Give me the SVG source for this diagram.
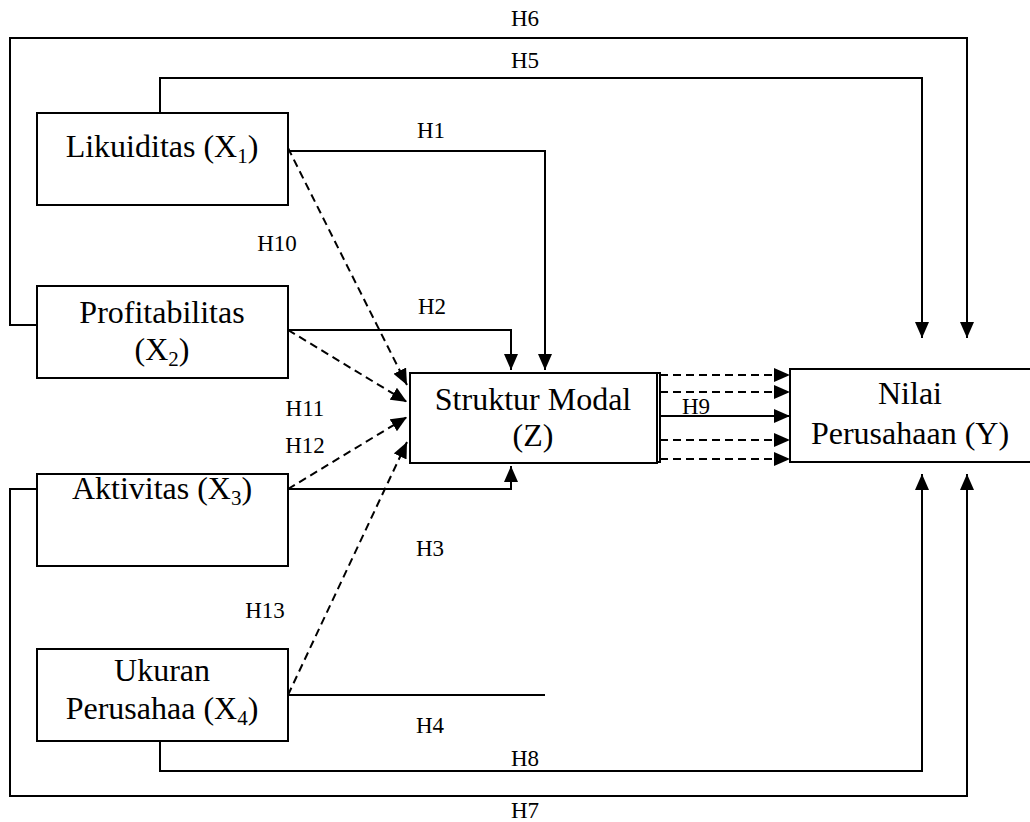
<svg xmlns="http://www.w3.org/2000/svg" width="1030" height="822" viewBox="0 0 1030 822">
<style>
.box{fill:#fff;stroke:#000;stroke-width:2}
.t{font-family:"Liberation Serif","Times New Roman",serif;font-size:32px;fill:#000;text-anchor:middle}
.lbl{font-family:"Liberation Serif","Times New Roman",serif;font-size:23px;fill:#000;text-anchor:middle}
.ln{fill:none;stroke:#000;stroke-width:2}
.dash{fill:none;stroke:#000;stroke-width:2;stroke-dasharray:8 5}
</style>
<defs>
<marker id="ah" markerUnits="userSpaceOnUse" markerWidth="16" markerHeight="14" refX="16" refY="7" orient="auto">
<path d="M0,0 L16,7 L0,14 z" fill="#000" stroke="none"/>
</marker>
</defs>
<rect width="1030" height="822" fill="#fff"/>
<g id="connectors">
<path class="ln" d="M37,325 H10 V38 H967 V338" marker-end="url(#ah)"/>
<path class="ln" d="M160,113 V78 H922 V338" marker-end="url(#ah)"/>
<path class="ln" d="M288,151 H545 V370" marker-end="url(#ah)"/>
<path class="ln" d="M288,330 H511 V370" marker-end="url(#ah)"/>
<path class="ln" d="M288,489 H511 V466" marker-end="url(#ah)"/>
<path class="ln" d="M288,695 H545"/>
<path class="ln" d="M160,741 V771 H922 V474" marker-end="url(#ah)"/>
<path class="ln" d="M37,489 H10 V796 H967 V474" marker-end="url(#ah)"/>
<path class="dash" d="M288,148 L407,385" marker-end="url(#ah)"/>
<path class="dash" d="M288,330 L407,402" marker-end="url(#ah)"/>
<path class="dash" d="M288,489 L407,417" marker-end="url(#ah)"/>
<path class="dash" d="M288,695 L407,442" marker-end="url(#ah)"/>
<path class="ln" d="M657,373 H660 V462 H657"/>
<path class="dash" d="M660,375 H790" marker-end="url(#ah)"/>
<path class="dash" d="M660,392 H790" marker-end="url(#ah)"/>
<path class="ln" d="M660,416 H790" marker-end="url(#ah)"/>
<path class="dash" d="M660,440 H790" marker-end="url(#ah)"/>
<path class="dash" d="M660,459 H790" marker-end="url(#ah)"/>
</g>
<g id="labels">
<text class="lbl" x="525" y="26">H6</text>
<text class="lbl" x="525" y="68">H5</text>
<text class="lbl" x="431" y="138">H1</text>
<text class="lbl" x="277" y="251">H10</text>
<text class="lbl" x="432" y="314">H2</text>
<text class="lbl" x="305" y="416">H11</text>
<text class="lbl" x="305" y="453">H12</text>
<text class="lbl" x="696" y="414">H9</text>
<text class="lbl" x="430" y="556">H3</text>
<text class="lbl" x="265" y="618">H13</text>
<text class="lbl" x="430" y="733">H4</text>
<text class="lbl" x="525" y="766">H8</text>
<text class="lbl" x="525" y="818">H7</text>
</g>
<g id="node-likuiditas">
<rect class="box" x="37" y="113" width="251" height="92"/>
<text class="t" x="162" y="157">Likuiditas (X<tspan font-size="21" dy="6">1</tspan><tspan dy="-6">)</tspan></text>
</g>
<g id="node-profitabilitas">
<rect class="box" x="37" y="286" width="251" height="92"/>
<text class="t" x="162" y="323">Profitabilitas</text>
<text class="t" x="162" y="360">(X<tspan font-size="21" dy="6">2</tspan><tspan dy="-6">)</tspan></text>
</g>
<g id="node-aktivitas">
<rect class="box" x="37" y="474" width="251" height="92"/>
<text class="t" x="162" y="499">Aktivitas (X<tspan font-size="21" dy="6">3</tspan><tspan dy="-6">)</tspan></text>
</g>
<g id="node-ukuran">
<rect class="box" x="37" y="649" width="251" height="92"/>
<text class="t" x="162" y="681">Ukuran</text>
<text class="t" x="162" y="719">Perusahaa (X<tspan font-size="21" dy="6">4</tspan><tspan dy="-6">)</tspan></text>
</g>
<g id="node-struktur">
<rect class="box" x="410" y="373" width="247" height="90"/>
<text class="t" x="533" y="410">Struktur Modal</text>
<text class="t" x="533" y="446">(Z)</text>
</g>
<g id="node-nilai">
<rect class="box" x="790" y="369" width="250" height="93"/>
<text class="t" x="910" y="404">Nilai</text>
<text class="t" x="910" y="444">Perusahaan (Y)</text>
</g>
</svg>
